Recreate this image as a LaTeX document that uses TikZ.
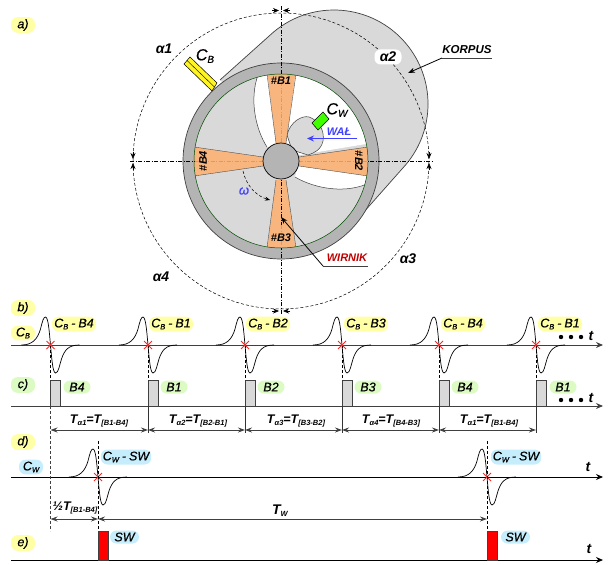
\documentclass[tikz,border=0pt]{standalone}
\usepackage{fontspec}
\setmainfont{Liberation Sans}
\newfontfamily\pillface{Liberation Sans}[UprightFont={* Italic},FakeBold=0.5]
\usetikzlibrary{arrows.meta,calc}
\definecolor{grayfill}{HTML}{D9D9D9}
\definecolor{ringfill}{HTML}{B4B4B4}
\definecolor{blade}{HTML}{F8B67E}
\definecolor{gold}{HTML}{E8A020}
\definecolor{pillY}{HTML}{FFFFA6}
\definecolor{pillG}{HTML}{DBFBC3}
\definecolor{pillB}{HTML}{C6EDFB}
\definecolor{lineG}{HTML}{404040}
\definecolor{wblue}{HTML}{4040FF}
\definecolor{wred}{HTML}{C00000}
\newcommand{\lowsub}[1]{\raisebox{-0.3ex}{\fontsize{7.5}{8}\selectfont #1}}
\newcommand{\bigsub}[1]{\raisebox{-0.3ex}{\fontsize{10}{10}\selectfont #1}}
\newcommand{\dimlab}[3]{T\lowsub{α#1}=T\lowsub{[#2-#3]}}
\newcommand{\sens}[2]{C\lowsub{#1}\kern3pt-\kern3pt#2}
\tikzset{
 x=1pt,y=-1pt,
 pill/.style={rounded corners=6.5pt,inner sep=2pt,minimum height=13pt,font=\fontsize{12.5}{12.5}\selectfont\pillface},
 ypill/.style={pill,fill=pillY},
 gpill/.style={pill,fill=pillG},
 bpill/.style={pill,fill=pillB},
 lab/.style={font=\fontsize{14}{14}\selectfont\bfseries\itshape,inner sep=0pt},
 blab/.style={font=\fontsize{11}{11}\selectfont\bfseries\itshape,inner sep=0pt},
 dimlabel/.style={font=\fontsize{12.5}{12.5}\selectfont\bfseries\itshape,inner sep=0pt},
 baseline axis/.style={draw=lineG,line width=1pt},
 axisarrow/.style={baseline axis,-{Stealth[length=7pt,width=6pt]}},
 dimline/.style={draw=lineG,line width=0.9pt,{Stealth[length=7pt,width=5pt]}-{Stealth[length=7pt,width=5pt]}},
 leader/.style={line width=0.8pt,-{Stealth[length=7pt,width=5pt]}},
 centerline/.style={line width=0.5pt,dash pattern=on 4pt off 1.5pt on 1pt off 1.5pt},
 guide/.style={line width=0.6pt,densely dashed},
 bladeshape/.style={fill=blade,draw=none},
 pulse/.pic={
  \draw[line width=0.7pt] (-29,0) .. controls (-18,0) and (-13,-6) .. (-10,-16)
    .. controls (-8,-24) and (-7,-28) .. (-5,-28)
    .. controls (-2,-28) and (-1,-10) .. (0,0)
    .. controls (1,10) and (2,28) .. (5,28)
    .. controls (8,28) and (9,20) .. (11,14)
    .. controls (14,5) and (18,0) .. (29,0);
  \draw[red!85!white,line width=0.8pt] (-4,-4) -- (4,4) (-4,4) -- (4,-4);
 }
}
\begin{document}
\begin{tikzpicture}
\useasboundingbox (0,0) rectangle (609,564);
\coordinate (O) at (281,161);
\coordinate (BK) at (334,104);
% body
\fill[grayfill] (220,80) -- (273.6,32) arc (-130:40:94) -- (363,213) -- cycle;
\draw[line width=0.7pt,lineG] (220,80) -- (273.6,32) arc (-130:40:94) -- (363,213);
% interior
\fill[grayfill] (O) circle (87);
\fill[white] (258,75) arc (-105:-10:87) -- (300,155) -- (267,147)
   .. controls (256,130) and (249,100) .. (258,75) -- cycle;
\fill[white] (295,177) .. controls (310,186) and (340,195) .. (367,184) -- (368,170) -- (298,165) -- cycle;
\draw[line width=0.5pt,lineG] (258,75) .. controls (249,100) and (256,130) .. (267,147);
\draw[line width=0.5pt,lineG] (295,177) .. controls (310,186) and (340,195) .. (367,184);
\draw[line width=0.5pt,lineG,fill=grayfill] (287,135) .. controls (290,122) and (302,115) .. (309,117)
   .. controls (318,120) and (325,130) .. (323,141)
   .. controls (321,150) and (314,153) .. (308,155) -- (292,150) -- cycle;
% blades
\fill[bladeshape] (267,70) -- (296,70) -- (286,143) -- (276,143) -- cycle;
\fill[bladeshape] (267,252) -- (296,252) -- (286,180) -- (276,180) -- cycle;
\fill[bladeshape] (372,146.5) -- (372,176.5) -- (299,166) -- (299,157) -- cycle;
\fill[bladeshape] (190,146.5) -- (190,176.5) -- (263,166) -- (263,157) -- cycle;
\draw[line width=0.4pt,black!70] (267,74) -- (276,143) (296,74) -- (286,143)
  (267,248) -- (276,180) (296,248) -- (286,180)
  (368,147) -- (299,157) (368,176) -- (299,166)
  (194,147) -- (263,157) (194,176) -- (263,166);
% ring
\fill[ringfill,even odd rule] (O) circle (98) (O) circle (87);
\draw[line width=0.7pt,lineG] (O) circle (98);
\draw[line width=0.5pt,black!70!green] (O) circle (87);
% centre lines and big circle
\draw[guide,line width=0.5pt] (O) circle (148);
\coordinate (cT) at (281,6);
\coordinate (cB) at (281,314);
\coordinate (cL) at (130,161);
\coordinate (cR) at (433,161);
\draw[centerline] (cT) -- (cB);
\draw[centerline] (cL) -- (cR);
% centre lines inside the blades
\draw[blade,line width=1pt] (281,74.5) -- (281,143) (281,225) -- (281,247.5) (299,161) -- (367.5,161) (194.5,161) -- (263,161);
\draw[centerline,gold] (281,74.5) -- (281,143) (281,225) -- (281,247.5) (299,161) -- (367.5,161) (194.5,161) -- (263,161);
% hub
\node[circle,draw=black,line width=0.7pt,fill=ringfill,minimum size=36pt,inner sep=0pt] (hub) at (O) {};
% angle arrows
\foreach \a/\b/\c/\d in {
 272/10.5/279/10.5, 290/10.5/283/10.5,
 272/311/279/311, 290/311/283/311,
 133/152/133/159, 133/170/133/163,
 429/152/429/159, 429/170/429/163}{
 \draw[line width=0.6pt,-{Stealth[length=6pt,width=5pt]}] (\a,\b) -- (\c,\d);
}
% sensors
\draw[line width=0.5pt,fill=yellow!85!white] (190,57) -- (184,64) -- (212,91) -- (217,83) -- cycle;
\draw[line width=0.4pt] (187,60.5) -- (214.5,87);
\draw[line width=0.5pt,fill=green!75!yellow] (323,112) -- (329,119) -- (318,130) -- (312,123) -- cycle;
% WAL arrow
\coordinate (walA) at (357,138.5);
\coordinate (walB) at (307,138.5);
\draw[wblue,line width=0.8pt,-{Stealth[length=7pt,width=6pt]}] (walA) -- (walB);
\node[blab,text=wblue] (wal) at (339,132) {WAŁ};
% omega
\draw[line width=0.5pt,densely dashed,-{Stealth[length=5pt,width=4pt]}] (243,171) .. controls (246,185) and (256,196) .. (270,200);
\node[lab,text=wblue,font=\fontsize{13}{13}\selectfont\pillface] (omega) at (244,191) {ω};
% blade labels
\node[blab] (b1) at (281,81) {\#B1};
\node[blab] (b3) at (281,238) {\#B3};
\node[blab,rotate=-90] (b2) at (359,161) {\#B2};
\node[blab,rotate=90] (b4) at (203,161) {\#B4};
% labels diagram
\node[lab] (a1) at (164,49) {α1};
\node[lab,fill=white,rounded corners=6pt,minimum width=27pt,minimum height=15pt] (a2) at (388,57) {α2};
\node[lab] (a3) at (408,259) {α3};
\node[lab] (a4) at (161,277) {α4};
\node[lab,font=\fontsize{16}{16}\selectfont\pillface] (cb) at (205,56) {C\bigsub{B}};
\node[lab,font=\fontsize{16}{16}\selectfont\pillface] (cw) at (337,110) {C\bigsub{W}};
\node[blab,font=\fontsize{11.5}{11.5}\selectfont\bfseries\itshape] (korpus) at (467,49.5) {KORPUS};
\coordinate (korL) at (442,58);
\coordinate (korR) at (492,58);
\coordinate (korT) at (408,73);
\draw[line width=0.8pt,lineG] (korR) -- (korL);
\draw[leader] (korL) -- (korT);
\node[blab,text=wred] (wirnik) at (347,258) {WIRNIK};
\coordinate (wirL) at (323,266);
\coordinate (wirR) at (368,266);
\coordinate (wirT) at (281,217);
\draw[line width=0.8pt,lineG] (wirR) -- (wirL);
\draw[leader] (wirL) -- (wirT);
% panel tags
\node[ypill,minimum width=24pt] (ta) at (23,25) {a)};
\node[ypill,minimum width=24pt] (tb) at (23,308) {b)};
\node[gpill,minimum width=24pt] (tc) at (23,385) {c)};
\node[ypill,minimum width=24pt] (td) at (23,442) {d)};
\node[ypill,minimum width=24pt] (te) at (23,543) {e)};
\node[ypill,minimum width=24pt] (tcb) at (23,333) {C\lowsub{B}};
\node[bpill,minimum width=24pt] (tcw) at (31,467) {C\lowsub{W}};
% baselines
\coordinate (bS) at (11,345); \coordinate (bE) at (603,345);
\coordinate (cS) at (11,406); \coordinate (cE) at (603,406);
\coordinate (dS) at (11,477); \coordinate (dE) at (603,477);
\coordinate (eS) at (11,560); \coordinate (eE) at (603,560);
% c rects & guides
\foreach \x in {50.5,148,245,342,439,536}{
 \draw[draw=lineG,line width=0.8pt,fill=grayfill] (\x,406) rectangle (\x+10,380);
 \draw[guide,line width=0.5pt] (\x,345) -- (\x,380);
}
\draw[axisarrow] (bS) -- (bE);
\draw[axisarrow] (cS) -- (cE);
\draw[axisarrow,draw=black] (dS) -- (dE);
\draw[axisarrow,draw=black] (eS) -- (eE);
% pulses
\foreach \x in {50.5,148,245,342,439,536}{ \pic at (\x,345) {pulse}; }
\foreach \x in {98,487}{ \pic at (\x,477) {pulse}; }
% b pills
\node[ypill,minimum width=44pt] (pb1) at (74,324) {\sens{B}{B4}};
\node[ypill,minimum width=44pt] (pb2) at (171,324) {\sens{B}{B1}};
\node[ypill,minimum width=44pt] (pb3) at (268,324) {\sens{B}{B2}};
\node[ypill,minimum width=44pt] (pb4) at (366,324) {\sens{B}{B3}};
\node[ypill,minimum width=44pt] (pb5) at (463,324) {\sens{B}{B4}};
\node[ypill,minimum width=44pt] (pb6) at (560,324) {\sens{B}{B1}};
% c pills
\node[gpill,minimum width=27pt] (pc1) at (77,387) {B4};
\node[gpill,minimum width=27pt] (pc2) at (174,387) {B1};
\node[gpill,minimum width=27pt] (pc3) at (271,387) {B2};
\node[gpill,minimum width=27pt] (pc4) at (368,387) {B3};
\node[gpill,minimum width=27pt] (pc5) at (465,387) {B4};
\node[gpill,minimum width=27pt] (pc6) at (563,387) {B1};
% dots and t
\foreach \y/\ty/\nm in {337/336/tb,400/398/tc}{
 \foreach \x in {561,571,581}{ \fill (\x,\y) circle (2.2); }
 \node[lab] (t\nm) at (591,\ty) {t};
}
\node[lab] (tdd) at (588,467) {t};
\node[lab] (tee) at (589,549) {t};
% timing coordinates
\foreach \n/\x in {0/50.5,1/148,2/245,3/342,4/439,5/536}{
 \coordinate (p\n) at (\x,430);
 \coordinate (q\n) at (\x,406);
 \coordinate (r\n) at (\x,433);
}
\foreach \n in {1,2,3,4,5}{ \draw[line width=0.7pt,black!80] (q\n) -- (r\n); }
\foreach \i/\j in {0/1,1/2,2/3,3/4,4/5}{ \draw[dimline] (p\i) -- (p\j); }
\node[dimlabel] (l1) at (99,421) {\dimlab{1}{B1}{B4}};
\node[dimlabel] (l2) at (198,421) {\dimlab{2}{B2}{B1}};
\node[dimlabel] (l3) at (296,421) {\dimlab{3}{B3}{B2}};
\node[dimlabel] (l4) at (391,421) {\dimlab{4}{B4}{B3}};
\node[dimlabel] (l5) at (489,421) {\dimlab{1}{B1}{B4}};
% d guides
\draw[guide,black!75] (50.5,406) -- (50.5,531);
\draw[guide] (98,441) -- (98,531);
\draw[guide] (487,441) -- (487,531);
\node[bpill,minimum width=49pt,minimum height=15pt] (pd1) at (126,457) {\sens{W}{SW}};
\node[bpill,minimum width=49pt,minimum height=15pt] (pd2) at (516,457) {\sens{W}{SW}};
\coordinate (m0) at (50.5,519);
\coordinate (m1) at (98,519);
\coordinate (m2) at (487,519);
\draw[dimline] (m0) -- (m1);
\draw[dimline] (m1) -- (m2);
\node[dimlabel] (half) at (75,508) {½T\lowsub{[B1-B4]}};
\node[dimlabel,font=\fontsize{14}{14}\selectfont\bfseries\itshape] (tw) at (280,511) {T\lowsub{W}};
% e pulses
\draw[draw=lineG,line width=0.7pt,fill=red] (98,560) rectangle (108,531);
\draw[draw=lineG,line width=0.7pt,fill=red] (487,560) rectangle (497,531);
\node[bpill,minimum width=29pt] (pe1) at (124.5,537) {SW};
\node[bpill,minimum width=29pt] (pe2) at (515.5,537) {SW};
\end{tikzpicture}
\end{document}
